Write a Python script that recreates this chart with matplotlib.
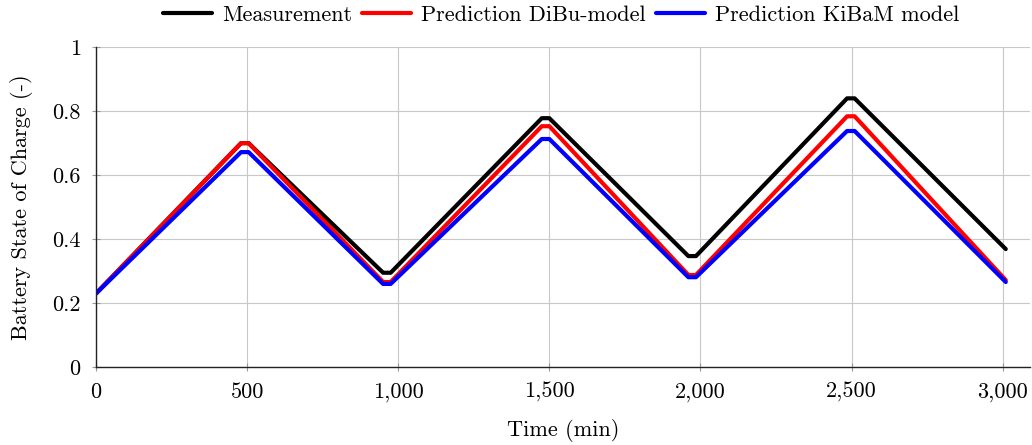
import matplotlib
matplotlib.use("Agg")
import matplotlib.pyplot as plt
from matplotlib.ticker import FuncFormatter

plt.rcParams['font.family'] = ['cmr10']
plt.rcParams['mathtext.fontset'] = 'cm'
plt.rcParams['axes.formatter.use_mathtext'] = True
plt.rcParams['font.size'] = 16

t_meas = [0, 480, 505, 950, 975, 1475, 1500, 1960, 1985, 2485, 2510, 3010]
soc_meas = [0.23, 0.70, 0.70, 0.295, 0.295, 0.778, 0.778, 0.347, 0.347, 0.84, 0.84, 0.369]

t_dibu = [0, 480, 505, 950, 975, 1475, 1500, 1960, 1985, 2485, 2510, 3010]
soc_dibu = [0.23, 0.70, 0.70, 0.266, 0.266, 0.753, 0.753, 0.288, 0.288, 0.784, 0.784, 0.272]

t_kibam = [0, 480, 505, 950, 975, 1475, 1500, 1960, 1985, 2485, 2510, 3010]
soc_kibam = [0.23, 0.672, 0.672, 0.26, 0.26, 0.713, 0.713, 0.281, 0.281, 0.738, 0.738, 0.266]

labels = ["Measurement", "Prediction DiBu-model", "Prediction KiBaM model"]
colors = ["black", "red", "blue"]

fig = plt.figure(figsize=(10.32, 4.45), dpi=100)
ax = fig.add_axes([0.093, 0.175, 0.905, 0.719])

for t, s, lab, c in zip([t_meas, t_dibu, t_kibam], [soc_meas, soc_dibu, soc_kibam], labels, colors):
    ax.plot(t, s, color=c, lw=3.0, label=lab, solid_joinstyle='round', solid_capstyle='round')

ax.set_xlim(0, 3090)
ax.set_ylim(0, 1)
ax.set_xticks([0, 500, 1000, 1500, 2000, 2500, 3000])
ax.set_yticks([0, 0.2, 0.4, 0.6, 0.8, 1.0])
ax.xaxis.set_major_formatter(FuncFormatter(lambda v, p: f"{int(v):,}"))
ax.yaxis.set_major_formatter(FuncFormatter(lambda v, p: "0" if v == 0 else ("1" if v == 1 else f"{v:.1f}")))
ax.grid(True, color='#c8c8c8', lw=0.8)
ax.set_axisbelow(True)
for sp in ['top', 'right']:
    ax.spines[sp].set_visible(False)
for sp in ['left', 'bottom']:
    ax.spines[sp].set_color('#222222')
    ax.spines[sp].set_linewidth(1.0)
ax.tick_params(direction='inout', length=6, color='#999999', width=0.8, pad=8)
ax.set_xlabel("Time (min)", labelpad=12)
ax.set_ylabel("Battery State of Charge (-)", labelpad=14)

leg = ax.legend(loc='center', bbox_to_anchor=(0.498, 1.1), ncol=3, frameon=False,
                handlelength=2.2, columnspacing=0.45, handletextpad=0.45, borderaxespad=0.0,
                borderpad=0.0)

fig.savefig("out.png", dpi=100)
